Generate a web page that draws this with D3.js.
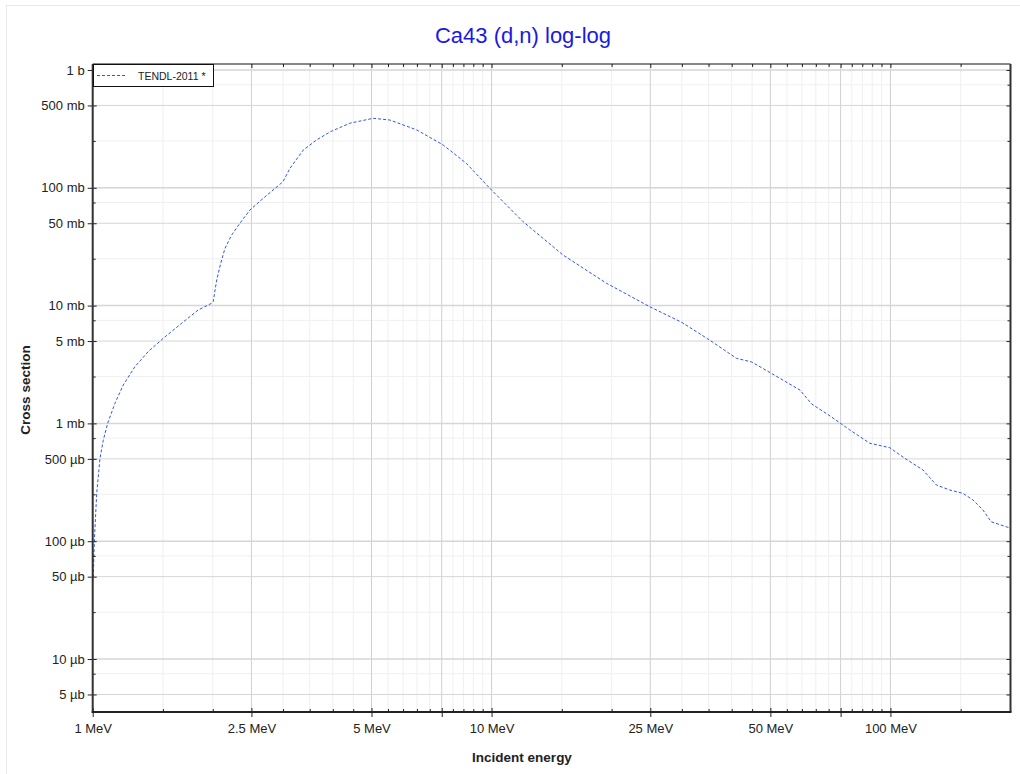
<!DOCTYPE html>
<html><head><meta charset="utf-8">
<script src="https://cdn.jsdelivr.net/npm/d3@7"></script>
<style>
body{margin:0;background:#fff;}
text{font-family:"Liberation Sans",Arial,sans-serif;}
</style></head>
<body><svg id="c" width="1020" height="774"></svg>
<script>
// ---- data (energy in MeV, cross section in barns) ----
const energies = [1.0, 1.0035, 1.0093, 1.0234, 1.043, 1.063, 1.09, 1.137, 1.193, 1.276, 1.378, 1.503, 1.671, 1.839, 1.99, 2.005,
  2.046, 2.094, 2.146, 2.23, 2.339, 2.479, 2.677, 3.0, 3.124, 3.372, 3.642, 3.95, 4.41, 5.05, 5.56, 6.49, 7.56, 8.65, 9.9,
  12.0, 15.1, 19.4, 24.9, 30, 35.2, 41.1, 44.9, 50.1, 59.3, 63.5, 70.5, 79.1, 88.8, 99.6, 108.6, 120.7, 130.4, 140.9, 152,
  161, 170.6, 179, 200];
const crossSections = [4.5e-5, 5.0e-5, 9.9e-5, 2.55e-4, 5.06e-4, 7.2e-4, 1.0e-3, 1.48e-3, 2.12e-3, 3.03e-3, 4.07e-3, 5.28e-3, 7.08e-3, 9.18e-3, 1.05e-2, 1.08e-2,
  1.65e-2, 2.29e-2, 3.06e-2, 3.97e-2, 5.0e-2, 6.48e-2, 8.15e-2, 0.1127, 0.1465, 0.209, 0.255, 0.30, 0.353, 0.389, 0.376, 0.31, 0.231, 0.161, 0.099,
  0.0515, 0.0269, 0.0155, 0.0098, 7.2e-3, 5.1e-3, 3.57e-3, 3.32e-3, 2.68e-3, 1.92e-3, 1.46e-3, 1.16e-3, 8.8e-4, 6.78e-4, 6.22e-4, 5.06e-4, 4.02e-4, 3.0e-4, 2.72e-4, 2.55e-4,
  2.24e-4, 1.84e-4, 1.46e-4, 1.29e-4];

const xMajorTicks = [1, 2.5, 5, 10, 25, 50, 100];
const xMajorLabels = ["1 MeV", "2.5 MeV", "5 MeV", "10 MeV", "25 MeV", "50 MeV", "100 MeV"];
const xMidTicks = [7.5, 75];
const xMinorTicks = [1.5, 2, 3, 3.5, 4, 4.5, 5.5, 6, 6.5, 7, 8, 8.5, 9, 9.5, 15, 20, 30, 35, 40, 45,
  55, 60, 65, 70, 80, 85, 90, 95, 150];
const yMajorTicks = [1, 0.5, 0.1, 0.05, 0.01, 0.005, 0.001, 5e-4, 1e-4, 5e-5, 1e-5, 5e-6];
const yMajorLabels = ["1 b", "500 mb", "100 mb", "50 mb", "10 mb", "5 mb", "1 mb", "500 µb", "100 µb", "50 µb", "10 µb", "5 µb"];
const yMinorTicks = [0.75, 0.25, 0.075, 0.025, 0.0075, 0.0025, 7.5e-4, 2.5e-4, 7.5e-5, 2.5e-5, 7.5e-6];

const title = "Ca43 (d,n) log-log";
const seriesName = "TENDL-2011 *";

// ---- layout ----
const L = 92.7, R = 1010.5, T = 64, B = 712;
const svg = d3.select("#c");
const x = d3.scaleLog().domain([1, 200]).range([L, R]);
const y = d3.scaleLog().domain([3.55e-6, 1.124]).range([B, T]);

svg.append("rect").attr("x", 6.5).attr("y", 5.5).attr("width", 1030).attr("height", 790)
  .attr("fill", "none").attr("stroke", "#e8e8e8");

// grid
const g = svg.append("g");
g.selectAll(".gxm").data(xMinorTicks).join("line")
  .attr("x1", d => x(d)).attr("x2", d => x(d)).attr("y1", T).attr("y2", B)
  .attr("stroke", "#efefef").attr("stroke-width", 1);
g.selectAll(".gym").data(yMinorTicks).join("line")
  .attr("y1", d => y(d)).attr("y2", d => y(d)).attr("x1", L).attr("x2", R)
  .attr("stroke", "#f0f0f0").attr("stroke-width", 1);
g.selectAll(".gxM").data(xMajorTicks.concat(xMidTicks)).join("line")
  .attr("x1", d => x(d)).attr("x2", d => x(d)).attr("y1", T).attr("y2", B)
  .attr("stroke", "#d0d0d0").attr("stroke-width", 1);
g.selectAll(".gyM").data(yMajorTicks).join("line")
  .attr("y1", d => y(d)).attr("y2", d => y(d)).attr("x1", L).attr("x2", R)
  .attr("stroke", "#d6d6d6").attr("stroke-width", d => (Math.abs(Math.log10(d) - Math.round(Math.log10(d))) < 1e-6 ? 1.5 : 1));

// curve
const line = d3.line().x((d, i) => x(energies[i])).y(d => y(d));
svg.append("path").datum(crossSections).attr("d", line)
  .attr("fill", "none").attr("stroke", "#2f55e8").attr("stroke-width", 1)
  .attr("stroke-dasharray", "3,2");

// axes
function styleAxis(sel) {
  sel.select(".domain").remove();
  sel.selectAll("line").attr("stroke", "#222");
  sel.selectAll("text").attr("fill", "#222").attr("font-size", 13)
    .attr("font-family", "'Liberation Sans', Arial, sans-serif");
}
const xb = svg.append("g").attr("transform", `translate(0,${B})`)
  .call(d3.axisBottom(x).tickValues(xMajorTicks.concat(xMidTicks)).tickSize(5).tickPadding(7)
    .tickFormat(d => { const i = xMajorTicks.indexOf(d); return i >= 0 ? xMajorLabels[i] : ""; }));
styleAxis(xb);
xb.selectAll(".tick line").attr("y1", -4);
const xbm = svg.append("g").attr("transform", `translate(0,${B})`)
  .call(d3.axisBottom(x).tickValues(xMinorTicks).tickSize(-3).tickFormat(""));
styleAxis(xbm);

const xt = svg.append("g").attr("transform", `translate(0,${T})`)
  .call(d3.axisTop(x).tickValues(xMajorTicks.concat(xMidTicks)).tickSize(-4).tickFormat(""));
styleAxis(xt);
const xtm = svg.append("g").attr("transform", `translate(0,${T})`)
  .call(d3.axisTop(x).tickValues(xMinorTicks).tickSize(-3).tickFormat(""));
styleAxis(xtm);

const yl = svg.append("g").attr("transform", `translate(${L},0)`)
  .call(d3.axisLeft(y).tickValues(yMajorTicks).tickSize(5).tickPadding(3)
    .tickFormat((d, i) => yMajorLabels[i]));
styleAxis(yl);
yl.selectAll(".tick line").attr("x1", 4);
const ylm = svg.append("g").attr("transform", `translate(${L},0)`)
  .call(d3.axisLeft(y).tickValues(yMinorTicks).tickSize(-3).tickFormat(""));
styleAxis(ylm);

const yr = svg.append("g").attr("transform", `translate(${R},0)`)
  .call(d3.axisRight(y).tickValues(yMajorTicks).tickSize(-4).tickFormat(""));
styleAxis(yr);
const yrm = svg.append("g").attr("transform", `translate(${R},0)`)
  .call(d3.axisRight(y).tickValues(yMinorTicks).tickSize(-3).tickFormat(""));
styleAxis(yrm);

// frame
svg.append("line").attr("x1", L).attr("x2", R).attr("y1", T).attr("y2", T).attr("stroke", "#111").attr("stroke-width", 1);
svg.append("line").attr("x1", R).attr("x2", R).attr("y1", T).attr("y2", B).attr("stroke", "#333").attr("stroke-width", 2);
svg.append("line").attr("x1", L).attr("x2", L).attr("y1", T).attr("y2", B + 1).attr("stroke", "#333").attr("stroke-width", 2);
svg.append("line").attr("x1", L - 1).attr("x2", R + 1).attr("y1", B).attr("y2", B).attr("stroke", "#222").attr("stroke-width", 2);

// legend
const lg = svg.append("g");
lg.append("rect").attr("x", 93.5).attr("y", 64.5).attr("width", 120).attr("height", 22)
  .attr("fill", "#fff").attr("stroke", "#111").attr("stroke-width", 1);
lg.append("line").attr("x1", 97).attr("x2", 127).attr("y1", 75.5).attr("y2", 75.5)
  .attr("stroke", "#2f55e8").attr("stroke-dasharray", "3,2");
lg.append("text").attr("x", 138).attr("y", 79.5).attr("font-size", 10.5).attr("fill", "#222").text(seriesName);

// titles
svg.append("text").attr("x", 523).attr("y", 43).attr("text-anchor", "middle")
  .attr("font-size", 22).attr("fill", "#1a1adf").text(title);
svg.append("text").attr("x", 522).attr("y", 762).attr("text-anchor", "middle")
  .attr("font-size", 13.5).attr("font-weight", "bold").attr("fill", "#222").text("Incident energy");
svg.append("text").attr("transform", "translate(30,390) rotate(-90)").attr("text-anchor", "middle")
  .attr("font-size", 13.5).attr("font-weight", "bold").attr("fill", "#222").text("Cross section");
</script></body></html>
